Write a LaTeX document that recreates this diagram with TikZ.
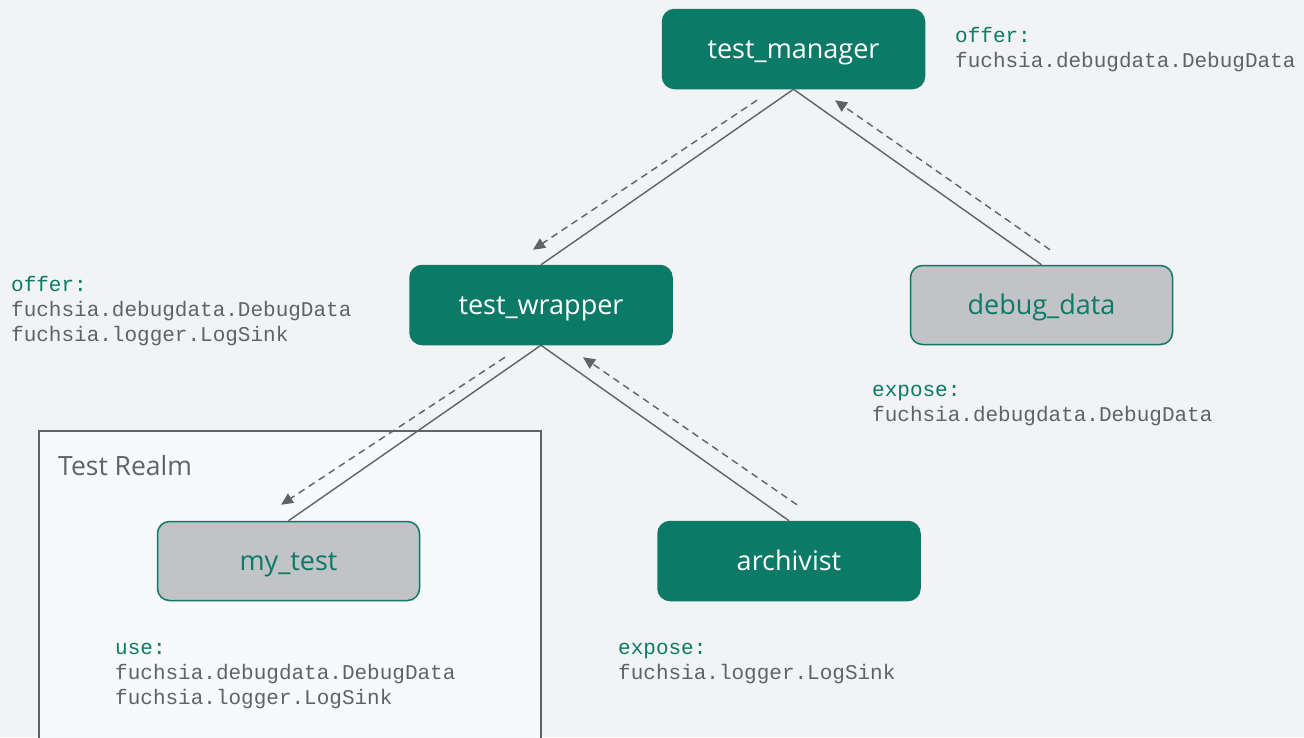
\documentclass[tikz,border=0pt]{standalone}
\usepackage{fontspec}
\setmainfont{Open Sans}
\newfontfamily\monofont{Liberation Mono}
\usetikzlibrary{arrows.meta,calc}
\definecolor{bg}{HTML}{F1F3F4}
\definecolor{fteal}{HTML}{0B7A66}
\definecolor{fgray}{HTML}{C1C3C7}
\definecolor{ink}{HTML}{5F6368}
\definecolor{realm}{HTML}{F8F9FA}
\begin{document}
\begin{tikzpicture}[x=1pt,y=-1pt,
  comp/.style={rounded corners=12pt, minimum width=262pt, minimum height=79pt, inner sep=0pt,
    text height=19pt, text depth=1pt,
    font=\fontsize{27}{30}\selectfont, line width=1.5pt},
  solidcomp/.style={comp, fill=fteal, draw=fteal, text=white},
  leafcomp/.style={comp, fill=fgray, draw=fteal, text=fteal},
  edge/.style={draw=ink, line width=1.4pt},
  flow/.style={draw=ink, line width=1.4pt, dash pattern=on 7pt off 5pt, -{Triangle[length=12pt,width=11pt]}},
  code/.style={font=\monofont\fontsize{21}{25}\selectfont, text=ink, align=left, inner sep=0pt, anchor=base west},
  realmlabel/.style={font=\fontsize{26.5}{29}\selectfont, text=ink, inner sep=0pt, anchor=base west},
]
\fill[bg] (0,0) rectangle (1304,737);
\useasboundingbox (0,0) rectangle (1304,737);
\path[fill=realm, draw=ink, line width=1.5pt] (39,737.5) -- (39,431) -- (541,431) -- (541,737.5);
\node[realmlabel] (realm) at (58,475) {Test Realm};

\node[solidcomp] (tm) at (793.5,49) {test\_manager};
\node[solidcomp] (tw) at (541,305) {test\_wrapper};
\node[leafcomp] (dd) at (1041.5,305) {debug\_data};
\node[leafcomp] (mt) at (288.5,561) {my\_test};
\node[solidcomp] (ar) at (789,561) {archivist};

\draw[edge] (tm.south) -- (tw.north);
\draw[edge] (tm.south) -- (dd.north);
\draw[edge] (tw.south) -- (mt.north);
\draw[edge] (tw.south) -- (ar.north);

\draw[flow] ($(tm.south)+(-36.5,11)$) -- ($(tw.north)+(-8,-15)$);
\draw[flow] ($(dd.north)+(8.5,-15)$) -- ($(tm.south)+(41.5,11)$);
\draw[flow] ($(tw.south)+(-36,12)$) -- ($(mt.north)+(-7.5,-16)$);
\draw[flow] ($(ar.north)+(8,-16)$) -- ($(tw.south)+(42,12)$);

\node[code] (offtm) at (955,67) {\textcolor{fteal}{offer:}\\fuchsia.debugdata.DebugData};
\node[code] (offtw) at (11,341) {\textcolor{fteal}{offer:}\\fuchsia.debugdata.DebugData\\fuchsia.logger.LogSink};
\node[code] (expdd) at (872,421) {\textcolor{fteal}{expose:}\\fuchsia.debugdata.DebugData};
\node[code] (expar) at (618,679) {\textcolor{fteal}{expose:}\\fuchsia.logger.LogSink};
\node[code] (usemt) at (115,704) {\textcolor{fteal}{use:}\\fuchsia.debugdata.DebugData\\fuchsia.logger.LogSink};
\end{tikzpicture}
\end{document}
